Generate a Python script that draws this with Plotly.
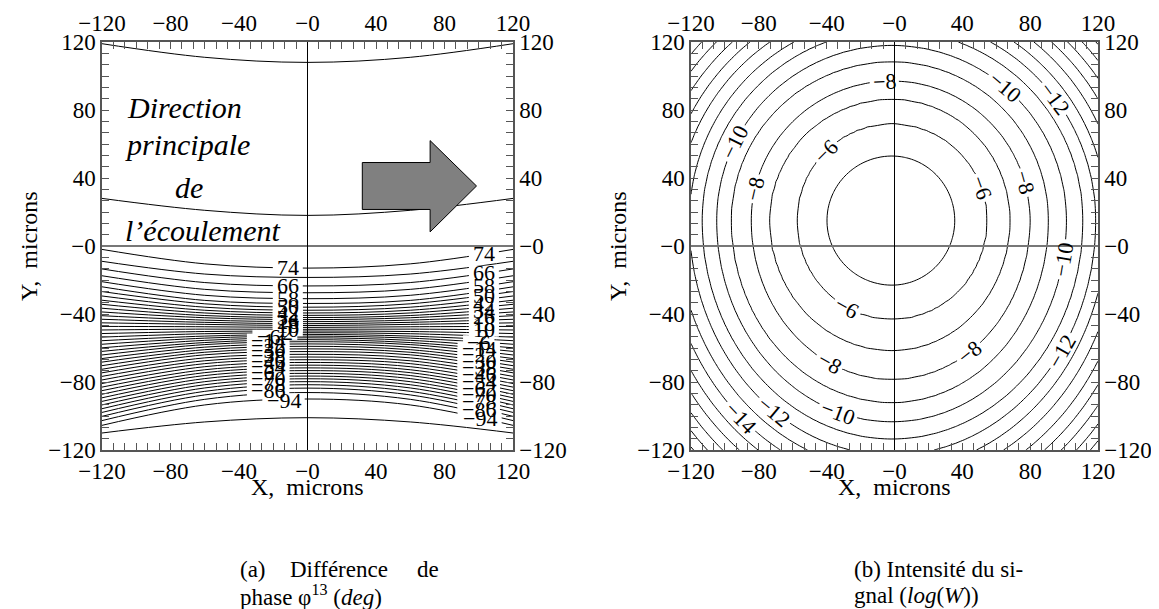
import numpy as np
import plotly.graph_objects as go

FONT = "Liberation Serif"

# ---------------- Panel (a): phase difference phi13 (deg) ----------------
phase_levels = [82, 78, 74, 70, 66, 62, 58, 54, 50, 46, 42, 38, 34, 30, 26, 22, 18, 14, 10, 6, 2,
                -2, -6, -10, -14, -18, -22, -26, -30, -34, -38, -42, -46, -50, -54, -58, -62, -66,
                -70, -74, -78, -82, -86, -90, -94, -98]
# y (microns) of each contour at x = +-120, x = +-60 and x = 0
phase_y_edge = [119, 28, -2, -9, -13.5, -17.5, -21, -24, -26.8, -29.4, -31.9, -34.3, -36.6, -38.8,
                -41, -43.1, -45.2, -47.3, -49.4, -51.5, -53.6, -55.7, -57.8, -59.9, -62, -64.1,
                -66.2, -68.3, -70.4, -72.5, -74.6, -76.7, -78.8, -80.9, -83, -85.1, -87.2, -89.3,
                -91.4, -93.5, -95.7, -97.9, -100.2, -102.7, -105.5, -110]
phase_y_mid = [111, 21, -10.5, -16.5, -21.5, -25.5, -29, -32, -34, -36, -37.8, -39.4, -40.9, -42.2,
               -43.6, -44.9, -46.1, -47.5, -48.9, -50.3, -51.6, -53, -54.2, -55.5, -56.8, -58,
               -59.5, -61, -62.5, -64, -65.8, -67.5, -69.2, -71, -72.8, -74.5, -76.2, -78, -79.8,
               -81.6, -83.5, -85.5, -87.6, -90.2, -93.5, -103.5]
phase_y_center = [108, 18, -13, -18.5, -23.5, -27.5, -31, -33.8, -36, -37.8, -39.4, -40.8, -42.1,
                  -43.3, -44.5, -45.7, -46.8, -47.9, -49, -50, -51, -52, -53, -54, -55.1, -56.3,
                  -57.6, -59, -60.5, -62.1, -63.7, -65.3, -66.9, -68.5, -70.1, -71.7, -73.3, -74.9,
                  -76.5, -78.1, -79.8, -81.6, -83.6, -86.2, -90, -101]
station_x = [-120, -60, 0, 60, 120]

label_levels = [74, 66, 58, 50, 42, 34, 26, 18, 10, 2, -6, -14, -22, -30, -38, -46, -54, -62, -70,
                -78, -86, -94]
label_x_left = [-11.5, -11.5, -11.5, -11.5, -11.5, -11.5, -11.5, -11.5, -11.5, -11.5, -23, -23, -23,
                -23, -23, -23, -23, -23, -23, -23, -23, -14]
label_x_right = [103, 103, 103, 103, 103, 103, 103, 103, 103, 103, 100, 100, 100, 100, 100, 100, 100,
                 100, 100, 100, 100, 101]

# flow-direction arrow (decoration) in data units
arrow_x = [32, 71.6, 71.6, 98.7, 71.6, 71.6, 32]
arrow_y = [49.1, 49.1, 62, 35.3, 8.3, 21.5, 21.5]

# ---------------- Panel (b): log signal intensity ----------------
int_levels = [-5, -6, -7, -8, -9, -10, -11, -12, -13, -14, -15, -16, -17, -18, -19, -20]
int_center = (-1.5, 15.0)
# distance (microns) from the centre at which each contour crosses, per direction
ext_right = [37.0, 56.3, 69.7, 81.5, 92.3, 103.0, 112.7, 120.2, 127.0, 134.0, 141.0, 147.5, 153.7,
             159.7, 165.4, 171.0]
ext_left = [38.3, 56.1, 72.3, 83.0, 94.8, 103.4, 112.0, 119.5, 127.0, 134.0, 141.0, 147.5, 153.7,
            159.7, 165.4, 171.0]
ext_top = [37.9, 57.0, 71.4, 82.1, 93.4, 103.0, 112.0, 120.0, 127.5, 134.5, 141.0, 147.5, 153.7,
           159.7, 165.4, 171.0]
ext_bottom = [38.0, 58.3, 76.7, 93.6, 107.2, 118.5, 128.6, 138.0, 146.8, 155.0, 163.0, 170.4,
              177.6, 184.5, 191.0, 197.6]
# inline labels of panel (b): level and approximate place
int_label_levels = [-6, -6, -6, -8, -8, -8, -8, -8, -10, -10, -10, -10, -12, -12, -12, -14]
int_label_x = [-41.5, 48.8, -28.6, -6, -81.3, 76.8, -37.2, 42.4, -94.2, 61.7, 97.2, -32.9, 92, 98.3,
               -69.5, -87.7]
int_label_y = [56.8, 33.5, -37.5, 96.7, 33.5, 37.4, -65.6, -59.8, 60.7, 89.9, -7.4, -95.7, 85,
               -61.7, -94.8, -96.7]

tick_vals = [-120, -80, -40, 0, 40, 80, 120]
tick_text = ["\u2212120", "\u221280", "\u221240", "\u22120", "40", "80", "120"]

# ------------------------------------------------------------------
W, H = 1159, 609
L_DOM = [94 / W, 505 / W]
R_DOM = [683 / W, 1090 / W]
Y_DOM = [1 - 442 / H, 1 - 34 / H]
PXU_X = (505 - 94) / 240.0
PXU_Y = (442 - 34) / 240.0
LABEL_SIZE = 22
DIGIT_PX = 0.5 * LABEL_SIZE
MINUS_PX = 0.564 * LABEL_SIZE

fig = go.Figure()

# panel (a) lines
xs, ys = [], []
for e, m, c in zip(phase_y_edge, phase_y_mid, phase_y_center):
    xs += station_x + [None]
    ys += [e, m, c, m, e, None]
fig.add_trace(go.Scatter(x=xs, y=ys, mode="lines",
                         line=dict(color="black", width=1, shape="spline", smoothing=1.0),
                         hoverinfo="skip", showlegend=False, xaxis="x", yaxis="y"))

# panel (b) field built from the measured contour extents
gx = np.linspace(-120, 120, 121)
gy = np.linspace(-120, 120, 121)
GX, GY = np.meshgrid(gx, gy)
dx = GX - int_center[0]
dy = GY - int_center[1]
lev = np.array(int_levels, float)
Rx = np.where(dx[None] >= 0, np.array(ext_right)[:, None, None], np.array(ext_left)[:, None, None])
Ry = np.where(dy[None] >= 0, np.array(ext_top)[:, None, None], np.array(ext_bottom)[:, None, None])
rho = np.sqrt((dx[None] / Rx) ** 2 + (dy[None] / Ry) ** 2)
inside = rho <= 1
any_in = inside.any(axis=0)
K = len(lev)
k = np.argmax(inside, axis=0)
kk = np.where(any_in, np.clip(k, 1, K - 1), K - 1)
r_lo = np.take_along_axis(rho, (kk - 1)[None], 0)[0]
r_hi = np.take_along_axis(rho, kk[None], 0)[0]
t = (r_lo - 1) / (r_lo - r_hi)
Z = lev[kk - 1] + (lev[kk] - lev[kk - 1]) * t

fig.add_trace(go.Contour(x=gx, y=gy, z=Z, colorscale=[[0, "black"], [1, "black"]],
                         showscale=False, hoverinfo="skip", line=dict(width=1, smoothing=1.0),
                         contours=dict(coloring="lines", start=-20, end=-5, size=1,
                                       showlabels=False),
                         xaxis="x2", yaxis="y2"))

# dummy traces so the mirrored (top / right) axes are laid out
fig.add_trace(go.Scatter(x=[], y=[], xaxis="x3", yaxis="y3", showlegend=False))
fig.add_trace(go.Scatter(x=[], y=[], xaxis="x4", yaxis="y4", showlegend=False))

tick_font = dict(family=FONT, size=23, color="black")
AX_COL = "#555555"


def ax(**kw):
    d = dict(range=[-120, 120], tickmode="array", tickvals=tick_vals, ticktext=tick_text,
             ticks="inside", ticklen=7, tickwidth=1, tickcolor=AX_COL,
             showline=True, linecolor=AX_COL, linewidth=1.5, mirror=False,
             showgrid=False, zeroline=False, tickfont=tick_font, fixedrange=True,
             automargin=False,
             minor=dict(ticks="inside", ticklen=7, tickwidth=1, tickcolor=AX_COL,
                        tickmode="linear", tick0=0, dtick=40 / 6, showgrid=False))
    d.update(kw)
    return d


def label_text(lvl):
    return ("\u2212" + str(-lvl)) if lvl < 0 else str(lvl)


def label_width_px(lvl):
    return DIGIT_PX * len(str(abs(lvl))) + (MINUS_PX if lvl < 0 else 0)


shapes = []
annotations = []
lab_font = dict(family=FONT, size=LABEL_SIZE, color="black")

# contour labels of panel (a): white boxes that break the lines, then the text
for lvl, xl, xr in zip(label_levels, label_x_left, label_x_right):
    i = phase_levels.index(lvl)
    prof = [phase_y_edge[i], phase_y_mid[i], phase_y_center[i], phase_y_mid[i], phase_y_edge[i]]
    hw = (label_width_px(lvl) / 2 + 4) / PXU_X
    hh = 7 / PXU_Y
    for lx in (xl, xr):
        ly = float(np.interp(lx, station_x, prof))
        shapes.append(dict(type="rect", xref="x", yref="y", x0=lx - hw, x1=lx + hw,
                           y0=ly - hh, y1=ly + hh, fillcolor="white", line=dict(width=0),
                           layer="above"))
        annotations.append(dict(x=lx, y=ly, xref="x", yref="y", text=label_text(lvl),
                                showarrow=False, font=lab_font,
                                xanchor="center", yanchor="middle"))

# contour labels of panel (b): placed on the level's curve, rotated along it
for lvl, px_, py_ in zip(int_label_levels, int_label_x, int_label_y):
    j = int_levels.index(lvl)
    ddx, ddy = px_ - int_center[0], py_ - int_center[1]
    rx = ext_right[j] if ddx >= 0 else ext_left[j]
    ry = ext_top[j] if ddy >= 0 else ext_bottom[j]
    r = np.hypot(ddx / rx, ddy / ry)
    ddx, ddy = ddx / r, ddy / r
    cx, cy = int_center[0] + ddx, int_center[1] + ddy
    nx, ny = ddx / rx ** 2 * PXU_X, ddy / ry ** 2 * PXU_Y
    tx, ty = -ny, nx
    ang = np.degrees(np.arctan2(ty, tx))
    if ang > 90:
        ang -= 180
    if ang <= -90:
        ang += 180
    ux, uy = np.cos(np.radians(ang)), np.sin(np.radians(ang))
    vx, vy = -uy, ux
    a = label_width_px(lvl) / 2 + 3
    b = 7.5
    pts = []
    for sa, sb in ((1, 1), (-1, 1), (-1, -1), (1, -1)):
        pxp = sa * a * ux + sb * b * vx
        pyp = sa * a * uy + sb * b * vy
        pts.append((cx + pxp / PXU_X, cy + pyp / PXU_Y))
    path = "M " + " L ".join(f"{p[0]:.3f} {p[1]:.3f}" for p in pts) + " Z"
    shapes.append(dict(type="path", xref="x2", yref="y2", path=path, fillcolor="white",
                       line=dict(width=0), layer="above"))
    annotations.append(dict(x=cx, y=cy, xref="x2", yref="y2", text=label_text(lvl),
                            showarrow=False, font=lab_font, textangle=-ang,
                            xanchor="center", yanchor="middle"))

# arrow
path = "M " + " L ".join(f"{a} {b}" for a, b in zip(arrow_x, arrow_y)) + " Z"
shapes.append(dict(type="path", xref="x", yref="y", path=path, fillcolor="#808080",
                   line=dict(color="black", width=1), layer="above"))

# zero lines of both panels
for xr_, yr_ in (("x", "y"), ("x2", "y2")):
    shapes.append(dict(type="line", xref=xr_, yref=yr_, x0=-120, x1=120, y0=0, y1=0,
                       line=dict(color="#777777", width=2), layer="above"))
    shapes.append(dict(type="line", xref=xr_, yref=yr_, x0=0, x1=0, y0=-120, y1=120,
                       line=dict(color="black", width=1), layer="above"))

# italic text in panel (a)
ital = dict(family=FONT, size=30, color="black")
for txt, xx, yy in (("Direction", -106.6, 81.4), ("principale", -107.5, 60.0),
                    ("de", -78.6, 34.6), ("l\u2019\u00e9coulement", -107.5, 9.4)):
    annotations.append(dict(x=xx, y=yy, xref="x", yref="y", text=f"<i>{txt}</i>",
                            showarrow=False, font=ital, xanchor="left", yanchor="middle"))

# axis titles
title_font = dict(family=FONT, size=24, color="black")
for cx in ((94 + 505) / 2 / W, (683 + 1090) / 2 / W):
    annotations.append(dict(x=cx, y=1 - 479 / H, xref="paper", yref="paper",
                            text="X,\u00a0 microns", showarrow=False, font=title_font,
                            xanchor="center", yanchor="middle"))
for cx in (21 / W, 610 / W):
    annotations.append(dict(x=cx, y=1 - 238 / H, xref="paper", yref="paper",
                            text="Y,\u00a0 microns", showarrow=False, font=title_font,
                            textangle=-90, xanchor="center", yanchor="middle"))

# captions (pieces of the justified first line placed separately)
cap_font = dict(family=FONT, size=23, color="black")
captions = [
    ("(a)", 230, 561),
    ("Diff\u00e9rence", 280, 561),
    ("de", 407, 561),
    ("phase \u03c6<sup>13</sup> (<i>deg</i>)", 230, 587),
    ("(b) Intensit\u00e9 du si-", 844, 561),
    ("gnal (<i>log</i>(<i>W</i>))", 844, 587),
]
for txt, px, py in captions:
    annotations.append(dict(x=px / W, y=1 - py / H, xref="paper", yref="paper", text=txt,
                            showarrow=False, font=cap_font, xanchor="left", yanchor="middle"))

fig.update_layout(
    width=W, height=H, autosize=False,
    margin=dict(l=0, r=0, t=0, b=0, autoexpand=False),
    paper_bgcolor="white", plot_bgcolor="white",
    showlegend=False, hovermode=False,
    xaxis=ax(domain=L_DOM, anchor="y"),
    yaxis=ax(domain=Y_DOM, anchor="x"),
    xaxis3=ax(domain=L_DOM, anchor="y", overlaying="x", side="top"),
    yaxis3=ax(domain=Y_DOM, anchor="x", overlaying="y", side="right"),
    xaxis2=ax(domain=R_DOM, anchor="y2"),
    yaxis2=ax(domain=Y_DOM, anchor="x2"),
    xaxis4=ax(domain=R_DOM, anchor="y2", overlaying="x2", side="top"),
    yaxis4=ax(domain=Y_DOM, anchor="x2", overlaying="y2", side="right"),
    shapes=shapes,
    annotations=annotations,
)

fig.write_html("out.html")
